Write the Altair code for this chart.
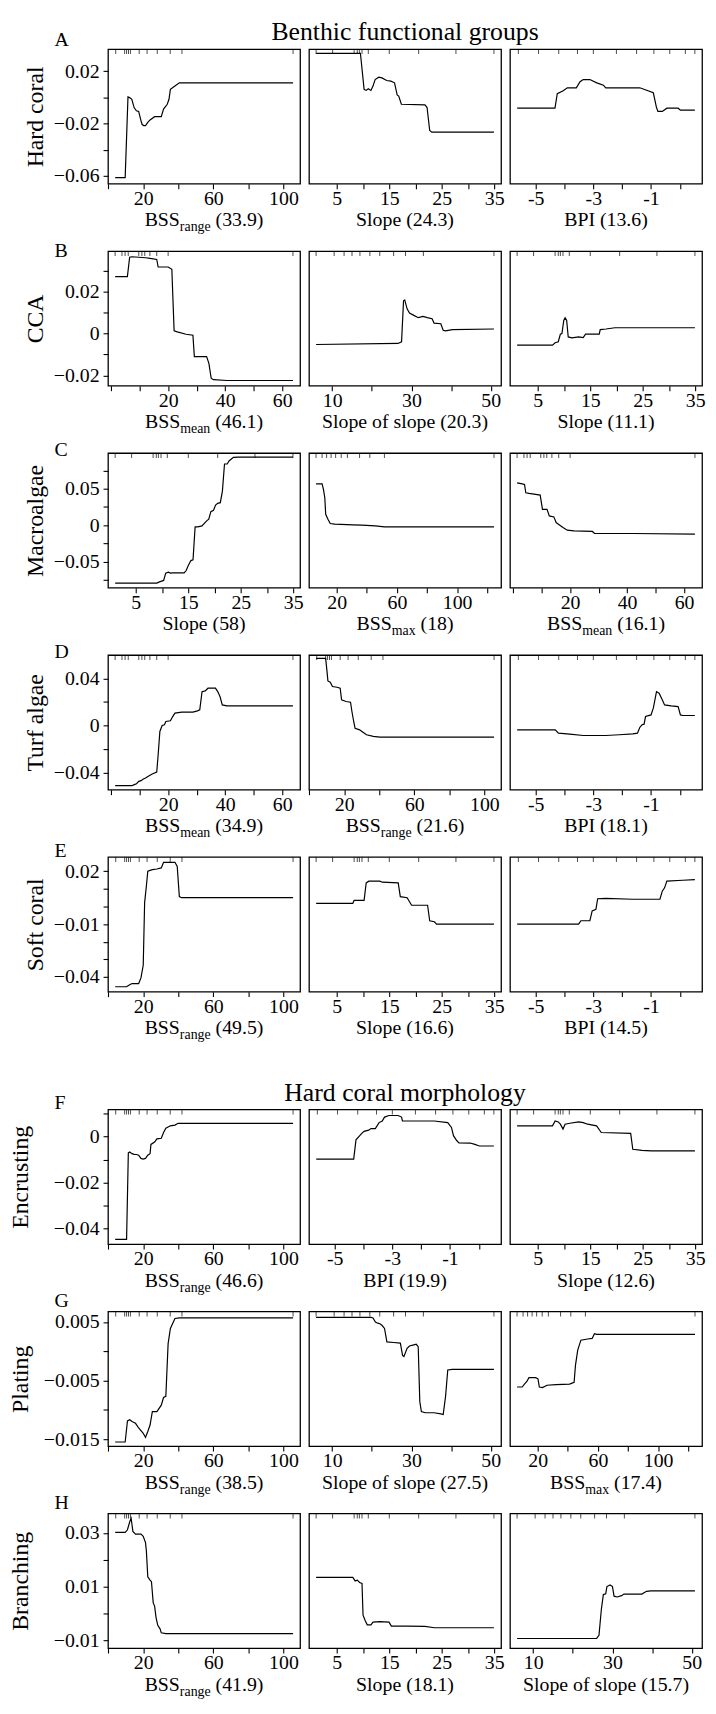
import altair as alt
import pandas as pd

FONT = "Liberation Serif"
W, H = 194, 136
MINUS = "\u2212"

# ---------------- partial-dependence curves (x, fitted function) ----------------
A1_x = [4.0, 9.7, 11.3, 12.2, 13.5, 14.8, 16.1, 17.4, 18.7, 19.4, 20.3, 21.3, 22.6, 23.9, 26.5, 30.3, 31.6, 33.7, 34.7, 35.5, 38.1, 40.6, 105.5]
A1_y = [-0.0613, -0.0613, 0.0004, -0.0001, -0.0014, -0.0077, -0.0102, -0.0107, -0.0177, -0.0207, -0.0215, -0.0215, -0.019, -0.0172, -0.0147, -0.0147, -0.0089, -0.0052, -0.0014, 0.0062, 0.0087, 0.0112, 0.0112]
A2_x = [1.06, 9.5, 10.2, 10.6, 11.0, 11.5, 11.9, 12.3, 13.0, 13.6, 14.5, 15.3, 16.0, 16.5, 16.8, 17.3, 21.8, 22.2, 22.7, 23.1, 34.94]
A2_y = [0.0338, 0.0338, 0.0062, 0.0054, 0.0067, 0.0054, 0.0087, 0.0137, 0.0155, 0.015, 0.013, 0.0125, 0.0112, 0.0019, 0.0011, -0.0052, -0.0057, -0.0077, -0.0253, -0.0265, -0.0265]
A3_x = [-5.64, -4.33, -4.25, -4.06, -3.90, -3.59, -3.46, -3.35, -3.12, -2.88, -2.65, -2.57, -1.39, -0.92, -0.81, -0.76, -0.61, -0.45, -0.06, 0.02, 0.52]
A3_y = [-0.0082, -0.0082, 0.0029, 0.0049, 0.0074, 0.0074, 0.012, 0.0137, 0.0137, 0.0112, 0.0094, 0.0074, 0.0074, 0.0036, -0.0077, -0.0107, -0.0107, -0.0082, -0.0082, -0.0097, -0.0097]

B1_x = [1.4, 5.7, 6.5, 7.3, 12.1, 13.7, 16.0, 16.5, 20.0, 21.3, 22.1, 23.2, 26.3, 28.7, 29.2, 33.5, 34.3, 35.1, 35.9, 40.6, 63.8]
B1_y = [0.0272, 0.0272, 0.0365, 0.0367, 0.0362, 0.0359, 0.0354, 0.0318, 0.0318, 0.0307, 0.0013, 0.0008, -0.0003, -0.0008, -0.011, -0.011, -0.0142, -0.0213, -0.022, -0.0224, -0.0224]
B2_x = [5.94, 26.6, 27.5, 28.0, 28.3, 28.9, 29.5, 30.6, 31.7, 32.9, 34.0, 35.2, 35.7, 37.4, 38.0, 38.6, 40.3, 50.8]
B2_y = [-0.0052, -0.0047, -0.0039, 0.0157, 0.0161, 0.0118, 0.0098, 0.0087, 0.0076, 0.0082, 0.0076, 0.0071, 0.005, 0.0047, 0.0016, 0.0013, 0.0019, 0.0022]
B3_x = [1.06, 7.8, 8.3, 8.9, 9.3, 9.6, 9.95, 10.2, 10.5, 10.8, 11.5, 12.8, 13.65, 14.1, 16.7, 16.9, 18.0, 19.7, 23.1, 34.94]
B3_y = [-0.0055, -0.0055, -0.0044, -0.0039, -0.0003, 0.0, 0.0063, 0.0076, 0.0063, -0.0016, -0.002, -0.0016, -0.0019, -0.0003, -0.0003, 0.0019, 0.0022, 0.0028, 0.0028, 0.0028]

C1_x = [1.06, 9.0, 9.4, 9.9, 10.3, 10.7, 11.2, 11.6, 12.0, 14.2, 14.6, 15.0, 15.5, 15.9, 16.3, 16.8, 17.6, 18.5, 18.9, 19.3, 19.8, 20.2, 20.6, 21.1, 21.5, 21.9, 22.4, 22.8, 23.6, 24.5, 34.94]
C1_y = [-0.0795, -0.0795, -0.0782, -0.0768, -0.0759, -0.0659, -0.0645, -0.0659, -0.0655, -0.0655, -0.0623, -0.0555, -0.0486, -0.0477, -0.0023, -0.0023, -0.0009, 0.0059, 0.0082, 0.0186, 0.0205, 0.0277, 0.0300, 0.0309, 0.0468, 0.0841, 0.0841, 0.0886, 0.0932, 0.0936, 0.0936]
C2_x = [6.3, 10.3, 11.2, 12.1, 12.7, 14.2, 15.7, 18.7, 30.7, 36.7, 45.7, 51.7, 124.5]
C2_y = [0.0568, 0.0568, 0.0491, 0.0377, 0.015, 0.0082, 0.0023, 0.0014, 0.0005, 0.0, -0.0009, -0.0023, -0.0023]
C3_x = [1.4, 3.2, 4.0, 4.45, 5.6, 7.9, 9.5, 10.3, 11.9, 12.7, 14.3, 15.1, 15.9, 17.5, 19.0, 21.4, 27.8, 28.6, 42.0, 63.8]
C3_y = [0.0582, 0.0568, 0.0559, 0.0445, 0.0436, 0.0423, 0.0414, 0.0218, 0.0218, 0.0127, 0.0114, 0.0036, 0.0014, -0.0032, -0.0068, -0.0077, -0.0086, -0.0114, -0.0114, -0.0123]

D1_x = [1.4, 7.3, 8.1, 8.9, 9.7, 10.5, 11.3, 12.1, 12.9, 14.4, 16.0, 16.5, 17.1, 17.9, 18.7, 19.2, 20.8, 21.6, 22.4, 24.8, 28.7, 30.3, 31.1, 31.9, 33.0, 34.0, 36.6, 37.4, 38.2, 39.0, 40.6, 63.8]
D1_y = [-0.0512, -0.0512, -0.0503, -0.0495, -0.0475, -0.0469, -0.0455, -0.0447, -0.0433, -0.0413, -0.0396, -0.0249, -0.0051, 0.0, 0.0006, 0.0034, 0.004, 0.0076, 0.0105, 0.0113, 0.0113, 0.0124, 0.0133, 0.0288, 0.0294, 0.0317, 0.0317, 0.0288, 0.0246, 0.0175, 0.0167, 0.0167]
D2_x = [4.0, 9.4, 10.0, 10.7, 12.0, 13.3, 15.9, 17.7, 18.5, 21.0, 23.6, 24.4, 25.4, 26.2, 28.8, 30.1, 32.7, 36.6, 40.4, 105.5]
D2_y = [0.0571, 0.0571, 0.0486, 0.0379, 0.0368, 0.0331, 0.0325, 0.0317, 0.0218, 0.0204, 0.0198, 0.0119, 0.0034, -0.0023, -0.0037, -0.0051, -0.0079, -0.0093, -0.0099, -0.0099]
D3_x = [-5.64, -4.32, -4.21, -3.82, -3.35, -2.57, -2.10, -1.63, -1.47, -1.39, -1.31, -1.24, -1.19, -1.00, -0.92, -0.81, -0.72, -0.61, -0.53, -0.30, -0.06, 0.02, 0.10, 0.52]
D3_y = [-0.0037, -0.0037, -0.0065, -0.0074, -0.0085, -0.0085, -0.0079, -0.0071, -0.0065, -0.0017, 0.0006, 0.0011, 0.0076, 0.009, 0.0147, 0.0288, 0.0274, 0.0218, 0.0175, 0.0167, 0.0161, 0.009, 0.0085, 0.0085]

E1_x = [4.0, 10.5, 11.8, 13.6, 17.4, 18.7, 20.0, 20.8, 21.8, 22.6, 25.2, 27.8, 30.3, 31.6, 38.1, 39.4, 40.6, 41.9, 105.5]
E1_y = [-0.0456, -0.0456, -0.0447, -0.0438, -0.0438, -0.0406, -0.0334, 0.0022, 0.0116, 0.02, 0.0209, 0.0213, 0.0219, 0.0251, 0.0251, 0.0228, 0.0056, 0.005, 0.005]
E2_x = [1.06, 8.05, 8.3, 10.2, 10.6, 11.1, 13.2, 13.65, 16.7, 17.1, 18.4, 19.25, 22.3, 22.7, 23.6, 24.0, 34.94]
E2_y = [0.0018, 0.0018, 0.0035, 0.0035, 0.0134, 0.0144, 0.0144, 0.0138, 0.0134, 0.0056, 0.005, 0.0007, 0.0007, -0.0081, -0.0087, -0.01, -0.01]
E3_x = [-5.64, -3.51, -3.43, -3.12, -3.04, -2.91, -2.85, -2.57, -1.63, -0.69, -0.61, -0.53, -0.45, 0.10, 0.52]
E3_y = [-0.01, -0.01, -0.0081, -0.0081, -0.0025, -0.0016, 0.0044, 0.0046, 0.0041, 0.0041, 0.0087, 0.0106, 0.0144, 0.0149, 0.0153]

F1_x = [4.0, 10.5, 11.5, 12.3, 13.6, 14.9, 16.1, 17.4, 18.7, 20.0, 21.3, 22.6, 23.9, 24.4, 26.5, 27.8, 30.3, 31.6, 32.9, 35.5, 38.1, 39.9, 105.5]
F1_y = [-0.0447, -0.0447, -0.0071, -0.0067, -0.0074, -0.0077, -0.0078, -0.0081, -0.0095, -0.0098, -0.0095, -0.0081, -0.0074, -0.0034, -0.0024, -0.001, -0.0007, 0.0018, 0.0037, 0.0047, 0.005, 0.0058, 0.0058]
F2_x = [-5.64, -4.34, -4.26, -4.13, -4.06, -3.98, -3.82, -3.74, -3.59, -3.46, -3.35, -3.27, -3.12, -2.80, -2.68, -2.65, -2.49, -1.55, -1.08, -0.95, -0.88, -0.77, -0.69, -0.30, -0.14, 0.02, 0.52]
F2_y = [-0.0098, -0.0098, -0.0014, 0.0004, 0.0014, 0.0023, 0.0028, 0.0035, 0.0035, 0.0061, 0.0068, 0.0085, 0.0092, 0.0092, 0.0085, 0.0068, 0.0068, 0.0068, 0.0061, 0.004, 0.0004, -0.0017, -0.0027, -0.0028, -0.0034, -0.0041, -0.0041]
F3_x = [1.06, 7.8, 8.3, 8.9, 9.3, 9.8, 10.2, 11.1, 12.8, 13.65, 14.5, 16.2, 17.1, 22.7, 23.1, 24.85, 26.6, 34.94]
F3_y = [0.0047, 0.0047, 0.0068, 0.0064, 0.0054, 0.0033, 0.0054, 0.0058, 0.0064, 0.0061, 0.0054, 0.0047, 0.0018, 0.0014, -0.0055, -0.006, -0.0062, -0.0062]

G1_x = [4.0, 9.7, 11.0, 12.3, 13.6, 15.6, 17.4, 20.0, 21.3, 22.6, 23.9, 25.2, 27.8, 30.3, 31.6, 32.9, 34.2, 35.5, 38.1, 40.6, 105.5]
G1_y = [-0.0155, -0.0155, -0.0119, -0.0117, -0.012, -0.0123, -0.0131, -0.014, -0.0147, -0.0137, -0.0126, -0.0103, -0.0103, -0.0092, -0.0079, -0.0077, 0.0013, 0.0039, 0.0056, 0.0057, 0.0057]
G2_x = [5.94, 19.8, 20.3, 20.9, 21.5, 22.05, 22.6, 23.2, 23.8, 25.5, 27.2, 27.75, 28.1, 28.9, 29.5, 30.6, 31.2, 31.7, 32.1, 32.5, 33.45, 35.7, 37.4, 38.0, 38.6, 39.15, 40.3, 50.8]
G2_y = [0.0058, 0.0058, 0.0057, 0.005, 0.0048, 0.0047, 0.0044, 0.0039, 0.0016, 0.0015, 0.0014, -0.0007, -0.0009, 0.0005, 0.0009, 0.0011, 0.0012, 0.0008, -0.0086, -0.0103, -0.0105, -0.0105, -0.0107, -0.0108, -0.0077, -0.0032, -0.0031, -0.0031]
G3_x = [6.3, 9.7, 11.2, 12.7, 14.2, 18.7, 20.2, 21.1, 23.2, 26.2, 32.2, 41.2, 44.2, 45.1, 46.6, 48.7, 53.2, 56.2, 57.7, 59.2, 124.5]
G3_y = [-0.0061, -0.0061, -0.0056, -0.0052, -0.0045, -0.0045, -0.0047, -0.0061, -0.0062, -0.0058, -0.0057, -0.0056, -0.0053, -0.0024, 0.0002, 0.0019, 0.0021, 0.0022, 0.003, 0.0029, 0.0029]

H1_x = [4.0, 9.7, 11.0, 12.3, 13.1, 14.1, 15.6, 18.7, 20.0, 21.3, 21.8, 22.6, 23.9, 24.7, 25.7, 26.5, 27.3, 28.3, 29.6, 30.3, 32.9, 105.5]
H1_y = [0.0302, 0.0302, 0.0312, 0.0342, 0.0355, 0.0306, 0.0296, 0.0296, 0.0288, 0.0264, 0.0233, 0.0136, 0.0124, 0.0118, 0.0039, 0.0027, -0.0015, -0.0045, -0.0058, -0.0073, -0.0076, -0.0076]
H2_x = [1.06, 8.05, 8.5, 8.9, 9.35, 9.8, 10.0, 10.4, 10.8, 11.5, 11.9, 13.2, 14.95, 15.4, 18.4, 21.8, 23.6, 34.94]
H2_y = [0.0134, 0.0134, 0.0121, 0.0124, 0.0115, 0.0112, -0.0007, -0.0027, -0.0043, -0.0043, -0.0033, -0.0031, -0.0033, -0.0048, -0.0048, -0.0049, -0.0054, -0.0054]
H3_x = [5.94, 26.0, 26.6, 27.2, 27.7, 28.3, 28.6, 29.4, 30.0, 30.4, 31.2, 32.3, 32.9, 37.4, 38.6, 39.7, 50.8]
H3_y = [-0.0094, -0.0094, -0.0082, 0.0015, 0.007, 0.0073, 0.01, 0.0106, 0.01, 0.0064, 0.0061, 0.0066, 0.0072, 0.0072, 0.0082, 0.0084, 0.0084]

CURVES = [
    [(A1_x, A1_y), (A2_x, A2_y), (A3_x, A3_y)],
    [(B1_x, B1_y), (B2_x, B2_y), (B3_x, B3_y)],
    [(C1_x, C1_y), (C2_x, C2_y), (C3_x, C3_y)],
    [(D1_x, D1_y), (D2_x, D2_y), (D3_x, D3_y)],
    [(E1_x, E1_y), (E2_x, E2_y), (E3_x, E3_y)],
    [(F1_x, F1_y), (F2_x, F2_y), (F3_x, F3_y)],
    [(G1_x, G1_y), (G2_x, G2_y), (G3_x, G3_y)],
    [(H1_x, H1_y), (H2_x, H2_y), (H3_x, H3_y)],
]

# ---------------- panel variables and titles ----------------
PANEL_VARS = [
    ["BSS_range", "Slope", "BPI"],
    ["BSS_mean", "Slope_of_slope", "Slope"],
    ["Slope", "BSS_max", "BSS_mean"],
    ["BSS_mean", "BSS_range", "BPI"],
    ["BSS_range", "Slope", "BPI"],
    ["BSS_range", "BPI", "Slope"],
    ["BSS_range", "Slope_of_slope", "BSS_max"],
    ["BSS_range", "Slope", "Slope_of_slope"],
]
IMPORTANCE = [
    ["33.9", "24.3", "13.6"],
    ["46.1", "20.3", "11.1"],
    ["58", "18", "16.1"],
    ["34.9", "21.6", "18.1"],
    ["49.5", "16.6", "14.5"],
    ["46.6", "19.9", "12.6"],
    ["38.5", "27.5", "17.4"],
    ["41.9", "18.1", "15.7"],
]
X_NAME = {
    "BSS_range": ("BSS", "range"),
    "BSS_mean": ("BSS", "mean"),
    "BSS_max": ("BSS", "max"),
    "Slope": ("Slope", ""),
    "BPI": ("BPI", ""),
    "Slope_of_slope": ("Slope of slope", ""),
}
ROW_LETTERS = ["A", "B", "C", "D", "E", "F", "G", "H"]
ROW_LETTER_Y = [-3, 6, 3, 3, 0, 0, -5, -5]
Y_TITLES = ["Hard coral", "CCA", "Macroalgae", "Turf algae", "Soft coral",
            "Encrusting", "Plating", "Branching"]
SECTION_TITLES = {0: "Benthic functional groups", 5: "Hard coral morphology"}

# ---------------- scales / axes ----------------
X_DOMAIN = {
    "BSS_range": [-0.1, 109.5],
    "Slope": [-0.3, 36.3],
    "BPI": [-5.89, 0.77],
    "BSS_mean": [-1.1, 66.3],
    "Slope_of_slope": [4.15, 52.6],
    "BSS_max": [1.6, 129.2],
}
X_TICKS = {
    "BSS_range": [0, 20, 40, 60, 80, 100],
    "Slope": [5, 10, 15, 20, 25, 30, 35],
    "BPI": [-5, -4, -3, -2, -1, 0],
    "BSS_mean": [0, 10, 20, 30, 40, 50, 60],
    "Slope_of_slope": [10, 20, 30, 40, 50],
    "BSS_max": [20, 40, 60, 80, 100, 120],
}
X_LABELS = {
    "BSS_range": [(20, "20"), (60, "60"), (100, "100")],
    "Slope": [(5, "5"), (15, "15"), (25, "25"), (35, "35")],
    "BPI": [(-5, "-5"), (-3, "-3"), (-1, "-1")],
    "BSS_mean": [(20, "20"), (40, "40"), (60, "60")],
    "Slope_of_slope": [(10, "10"), (30, "30"), (50, "50")],
    "BSS_max": [(20, "20"), (60, "60"), (100, "100")],
}
# decile rug marks along the top of each panel
RUG = {
    "BSS_range": [4.3, 9.4, 10.5, 11.6, 12.7, 17.7, 22.2, 28.0, 35.4, 42.1, 105.5],
    "Slope": [1.06, 4.2, 8.3, 8.9, 9.3, 9.8, 11.0, 15.0, 20.6, 27.7, 34.94],
    "BPI": [-5.6, -4.9, -4.2, -3.55, -3.0, -2.2, -1.5, -0.9, -0.35, 0.19, 0.52],
    "BSS_mean": [1.4, 3.8, 4.9, 6.0, 9.7, 10.8, 11.8, 13.6, 16.0, 20.0, 63.8],
    "Slope_of_slope": [5.94, 10.5, 13.0, 15.0, 17.0, 19.5, 22.0, 25.5, 28.5, 33.0, 50.8],
    "BSS_max": [6.3, 10.3, 13.3, 16.3, 19.3, 23.0, 27.1, 35.2, 42.0, 51.7, 124.5],
}
Y_DOMAIN = [
    [-0.066, 0.037],
    [-0.0249, 0.0394],
    [-0.0859, 0.0991],
    [-0.0546, 0.0599],
    [-0.0484, 0.0281],
    [-0.0468, 0.0118],
    [-0.0162, 0.0068],
    [-0.013, 0.0373],
]
Y_TICKS = [
    [-0.06, -0.04, -0.02, 0, 0.02],
    [-0.02, -0.01, 0, 0.01, 0.02, 0.03],
    [-0.075, -0.05, -0.025, 0, 0.025, 0.05, 0.075],
    [-0.04, -0.02, 0, 0.02, 0.04],
    [-0.04, -0.03, -0.02, -0.01, 0, 0.01, 0.02],
    [-0.04, -0.03, -0.02, -0.01, 0, 0.01],
    [-0.015, -0.01, -0.005, 0, 0.005],
    [-0.01, 0, 0.01, 0.02, 0.03],
]
Y_LABELS = [
    [(0.02, "0.02"), (-0.02, MINUS + "0.02"), (-0.06, MINUS + "0.06")],
    [(0.02, "0.02"), (0, "0"), (-0.02, MINUS + "0.02")],
    [(0.05, "0.05"), (0, "0"), (-0.05, MINUS + "0.05")],
    [(0.04, "0.04"), (0, "0"), (-0.04, MINUS + "0.04")],
    [(0.02, "0.02"), (-0.01, MINUS + "0.01"), (-0.04, MINUS + "0.04")],
    [(0, "0"), (-0.02, MINUS + "0.02"), (-0.04, MINUS + "0.04")],
    [(0.005, "0.005"), (-0.005, MINUS + "0.005"), (-0.015, MINUS + "0.015")],
    [(0.03, "0.03"), (0.01, "0.01"), (-0.01, MINUS + "0.01")],
]
Y_TITLE_X = [-73, -73, -73, -73, -73, -88, -88, -88]

# Times-compatible advance widths (per 1000 em) for centring composite titles
TW = {" ": 250, "(": 333, ")": 333, ".": 250, "B": 667, "S": 556, "P": 556, "I": 333,
      "a": 444, "c": 444, "e": 444, "f": 333, "g": 500, "l": 278, "m": 778, "n": 500,
      "o": 500, "p": 500, "r": 333, "x": 500}


def tw(s, size):
    return sum(TW.get(ch, 500) for ch in s) * size / 1000.0


def label_expr(pairs):
    expr = "''"
    for v, t in reversed(pairs):
        k = int(round(v * 1000000))
        expr = f"round(datum.value * 1000000) == {k} ? '{t}' : {expr}"
    return expr


def text_layer(txt, px, py, size, align="left"):
    return alt.Chart(pd.DataFrame({"t": [txt]})).mark_text(
        font=FONT, fontSize=size, color="black", align=align, baseline="alphabetic"
    ).encode(text="t:N", x=alt.value(px), y=alt.value(py))


def make_panel(r, c):
    var = PANEL_VARS[r][c]
    xs, ys = CURVES[r][c]
    xscale = alt.Scale(domain=X_DOMAIN[var], nice=False, zero=False)
    yscale = alt.Scale(domain=Y_DOMAIN[r], nice=False, zero=False)
    xaxis = alt.Axis(values=X_TICKS[var], labelExpr=label_expr(X_LABELS[var]), title=None,
                     labelFlush=False, labelOverlap=False, labelBound=False, labelPadding=0)
    if c == 0:
        yaxis = alt.Axis(values=Y_TICKS[r], labelExpr=label_expr(Y_LABELS[r]),
                         title=Y_TITLES[r], titleX=Y_TITLE_X[r], titleY=H / 2,
                         titleAngle=270, titleAlign="center", titleBaseline="middle",
                         labelFlush=False, labelOverlap=False, labelBound=False, labelPadding=4)
    else:
        yaxis = None
    df = pd.DataFrame({"x": xs, "y": ys, "i": list(range(len(xs)))})
    line = alt.Chart(df).mark_line(color="black", strokeWidth=1.2, clip=True).encode(
        x=alt.X("x:Q", scale=xscale, axis=xaxis),
        y=alt.Y("y:Q", scale=yscale, axis=yaxis),
        order="i:Q",
    )
    rug = alt.Chart(pd.DataFrame({"x": RUG[var]})).mark_tick(
        orient="vertical", size=10, thickness=1, color="black", clip=True
    ).encode(
        x=alt.X("x:Q", scale=xscale, axis=xaxis),
        y=alt.YDatum(Y_DOMAIN[r][1], type="quantitative", scale=yscale, axis=yaxis),
    )
    layers = [line, rug]

    base, sub = X_NAME[var]
    paren = f"({IMPORTANCE[r][c]})"
    ty = H + 43
    if sub:
        total = tw(base, 20) + tw(sub, 14) + tw(" " + paren, 20)
        x0 = W / 2 - total / 2
        layers.append(text_layer(base, x0, ty, 20))
        layers.append(text_layer(sub, x0 + tw(base, 20), ty + 5, 14))
        layers.append(text_layer(paren, x0 + tw(base, 20) + tw(sub, 14) + tw(" ", 20), ty, 20))
    else:
        layers.append(text_layer(base + " " + paren, W / 2, ty, 20, align="center"))

    if c == 0:
        layers.append(text_layer(ROW_LETTERS[r], -54, ROW_LETTER_Y[r], 20))
    if c == 1 and r in SECTION_TITLES:
        layers.append(text_layer(SECTION_TITLES[r], W / 2, -9, 26, align="center"))

    return alt.layer(*layers).properties(width=W, height=H)


def spacer(h):
    return alt.Chart(pd.DataFrame({"v": [0]})).mark_point(opacity=0).encode(
        x=alt.X("v:Q", axis=None), y=alt.Y("v:Q", axis=None)
    ).properties(width=W, height=h, view=alt.ViewBackground(stroke="transparent"))


cells = []
for r in range(8):
    for c in range(3):
        cells.append(make_panel(r, c))
    if r < 7:
        gap = 99 if r == 4 else 48
        for c in range(3):
            cells.append(spacer(gap))

chart = alt.concat(
    *cells, columns=3, spacing={"row": 10, "column": 9}, bounds="flush", align="each"
).properties(
    padding={"left": 0, "top": 2, "right": 2, "bottom": 2},
    background="white",
).configure_view(
    stroke="black", strokeWidth=1.3
).configure_axis(
    domain=False, grid=False, ticks=True, tickColor="black", tickSize=5, tickWidth=1.1,
    labelFont=FONT, labelFontSize=20, labelColor="black", labelOverlap=False,
    titleFont=FONT, titleFontSize=24, titleFontWeight="normal", titleColor="black",
)

chart.save("out.html", embed_options={"renderer": "svg", "actions": False})
